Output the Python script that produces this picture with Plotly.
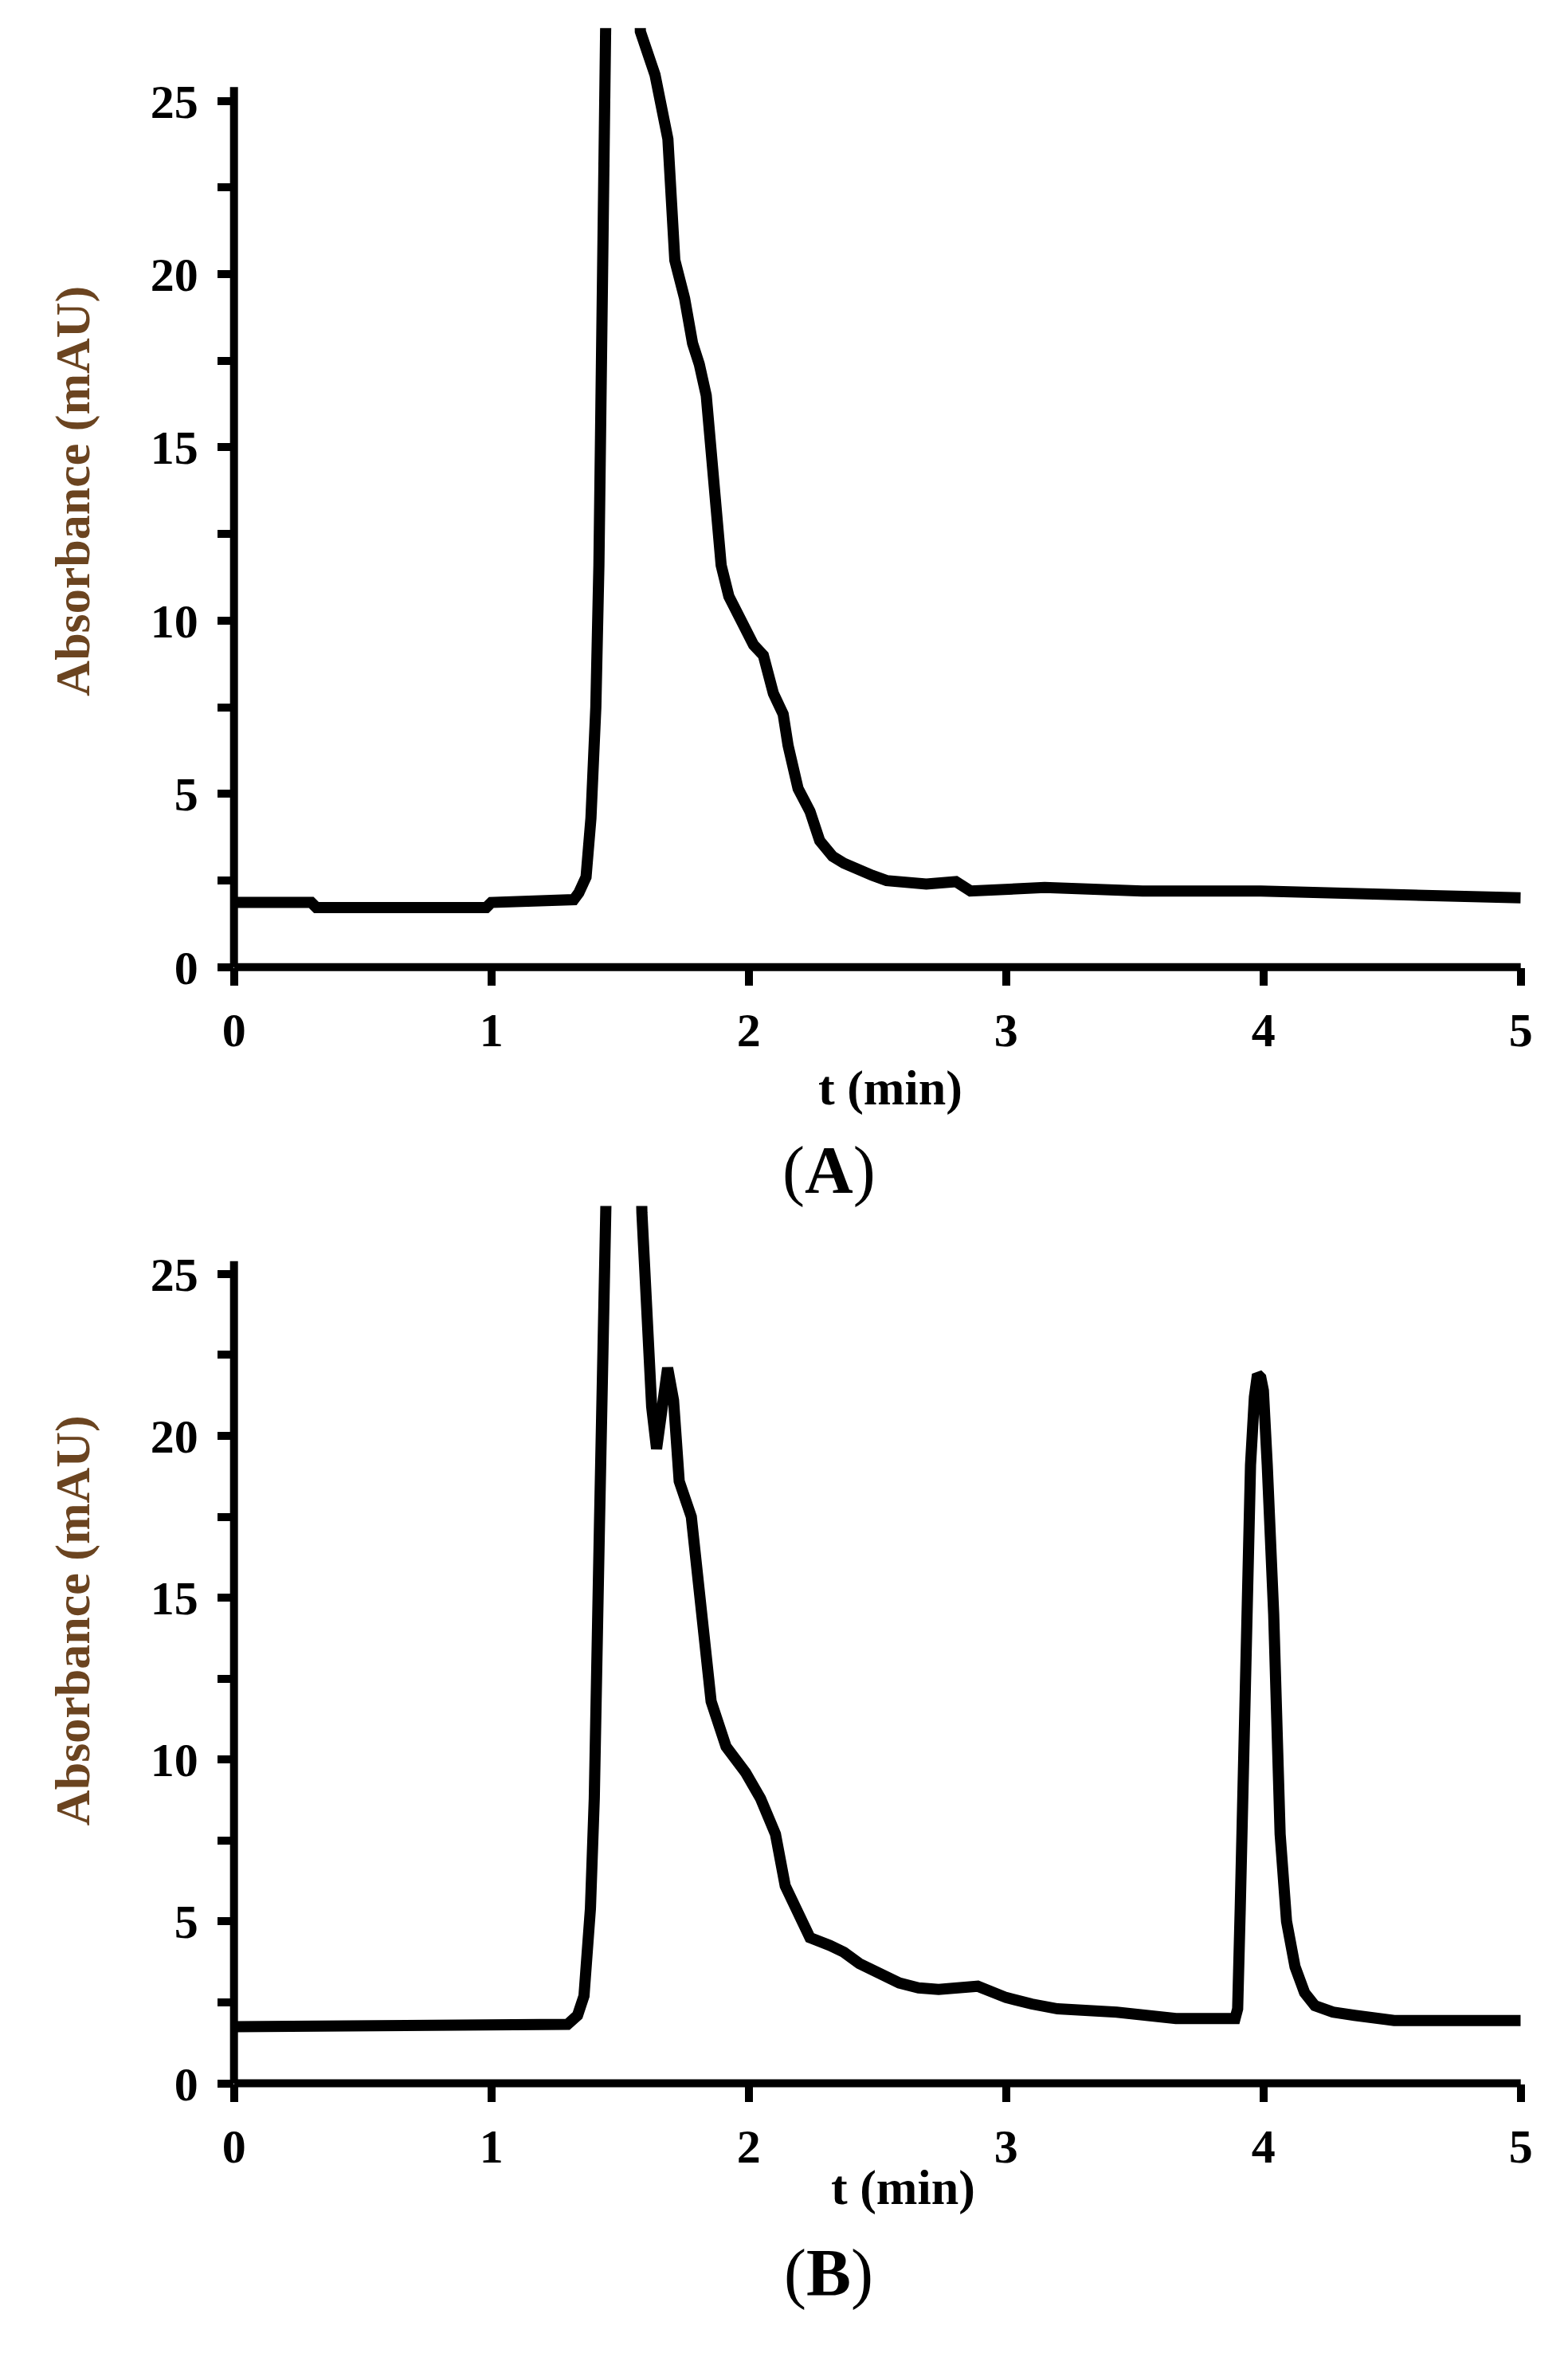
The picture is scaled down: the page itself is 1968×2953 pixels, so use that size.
import plotly.graph_objects as go

# ---------------- data ----------------
tA = [0.00, 0.30, 0.32, 0.98, 1.00, 1.30, 1.32, 1.34, 1.368, 1.387, 1.406, 1.418, 1.425, 1.437, 1.444,
      1.46, 1.52, 1.57, 1.579, 1.636, 1.686, 1.713, 1.751, 1.782, 1.808, 1.835, 1.854, 1.877,
      1.893, 1.923, 1.962, 2.019, 2.057, 2.096, 2.134, 2.153, 2.192, 2.238, 2.276, 2.30, 2.326,
      2.37, 2.421, 2.48, 2.536, 2.690, 2.805, 2.862, 3.15, 3.53, 3.99, 4.57, 5.00]
vA = [1.87, 1.87, 1.72, 1.72, 1.87, 1.87, 1.95, 2.15, 2.6, 4.3, 7.5, 11.6, 17.4, 23.6, 27.0,
      33.0, 40.0, 33.0, 27.0, 25.75, 23.9, 20.4, 19.3, 18.0, 17.4, 16.5, 15.0, 12.9,
      11.6, 10.7, 10.1, 9.3, 9.0, 7.9, 7.3, 6.4, 5.15, 4.5, 3.65, 3.4, 3.2,
      3.0, 2.8, 2.65, 2.5, 2.4, 2.47, 2.2, 2.3, 2.2, 2.2, 2.05, 2.0]

tB = [0.00, 1.00, 1.01, 1.296, 1.335, 1.36, 1.385, 1.40, 1.42, 1.43, 1.44, 1.46, 1.52, 1.57,
      1.585, 1.604, 1.623, 1.642, 1.662, 1.685, 1.708, 1.73, 1.777, 1.815, 1.854, 1.912, 1.988,
      2.046, 2.104, 2.142, 2.18, 2.238, 2.315, 2.37, 2.43, 2.50, 2.585, 2.66, 2.738, 2.89, 3.00,
      3.10, 3.20, 3.43, 3.66, 3.89, 3.90, 3.91, 3.93, 3.95, 3.965, 3.977, 3.99, 4.00, 4.015,
      4.04, 4.065, 4.09, 4.123, 4.16, 4.20, 4.27, 4.354, 4.508, 5.00]
vB = [1.75, 1.75, 1.82, 1.82, 2.1, 2.7, 5.4, 8.8, 17.2, 23.6, 26.9, 33.0, 40.0, 33.0,
      26.9, 23.6, 20.9, 19.6, 20.9, 22.1, 21.1, 18.6, 17.5, 15.0, 11.8, 10.4, 9.6,
      8.8, 7.7, 6.1, 5.4, 4.5, 4.26, 4.05, 3.7, 3.4, 3.1, 2.95, 2.9, 3.0, 2.65,
      2.45, 2.3, 2.2, 2.0, 2.0, 2.3, 5.4, 14.5, 19.1, 21.2, 21.9, 21.8, 21.4, 19.1,
      14.5, 7.7, 5.0, 3.6, 2.8, 2.4, 2.2, 2.1, 1.94, 1.94]

x_ticks = [0, 1, 2, 3, 4, 5]
y_ticks = [0, 5, 10, 15, 20, 25]
y_top = 27.1
y_axis_end = 25.4

# ---------------- layout geometry ----------------
W, H = 1968, 2953
FONT = "Liberation Serif"
X_DOM = [283 / W, 1923 / W]
Y_DOM_A = [(H - 1228) / H, (H - 35.6) / H]
Y_DOM_B = [(H - 2645) / H, (H - 1531.2) / H]

fig = go.Figure()
line_style = dict(color="black", width=14)
fig.add_trace(go.Scatter(x=tA, y=vA, mode="lines", line=line_style, xaxis="x", yaxis="y",
                         showlegend=False, hoverinfo="skip"))
fig.add_trace(go.Scatter(x=tB, y=vB, mode="lines", line=line_style, xaxis="x2", yaxis="y2",
                         showlegend=False, hoverinfo="skip"))

tickfont = dict(family=FONT, size=60, color="black", weight="bold")

def xaxis(dom_anchor):
    return dict(domain=X_DOM, range=[0, 5], anchor=dom_anchor, tickmode="array",
                tickvals=x_ticks, ticktext=[str(v) for v in x_ticks], ticks="outside",
                ticklen=22, tickwidth=10, tickcolor="black", showline=False, showgrid=False,
                zeroline=False, tickfont=tickfont, ticklabelstandoff=4, fixedrange=True)

def yaxis(dom, anchor):
    return dict(domain=dom, range=[0, y_top], anchor=anchor, tickmode="array",
                tickvals=y_ticks, ticktext=[str(v) for v in y_ticks], ticks="outside",
                ticklen=20, tickwidth=10, tickcolor="black", showline=False, showgrid=False,
                zeroline=False, tickfont=tickfont, ticklabelstandoff=12,
                minor=dict(ticks="outside", tick0=0, dtick=2.5, ticklen=20, tickwidth=10,
                           tickcolor="black", showgrid=False),
                fixedrange=True)

shapes = []
for xr, yr in (("x", "y"), ("x2", "y2")):
    shapes.append(dict(type="line", xref=xr + " domain", yref=yr + " domain",
                       x0=0, x1=0, y0=0, y1=y_axis_end / y_top,
                       line=dict(color="black", width=10)))
    shapes.append(dict(type="line", xref=xr + " domain", yref=yr + " domain",
                       x0=0, x1=1, y0=0, y1=0, line=dict(color="black", width=10)))

title_font = dict(family=FONT, size=62, color="black", weight="bold")
ytitle_font = dict(family=FONT, size=62, color="#6b4420", weight="bold")
panel_font = dict(family=FONT, size=84, color="black")

annotations = [
    dict(text="Absorbance (mAU)", x=78 / W, y=(H - 623) / H, textangle=-90, font=ytitle_font),
    dict(text="Absorbance (mAU)", x=78 / W, y=(H - 2057) / H, textangle=-90, font=ytitle_font),
    dict(text="t (min)", x=1120 / W, y=(H - 1381) / H, font=title_font),
    dict(text="t (min)", x=1136 / W, y=(H - 2777) / H, font=title_font),
    dict(text="(<b>A</b>)", x=1041 / W, y=(H - 1486) / H, font=panel_font),
    dict(text="(<b>B</b>)", x=1041 / W, y=(H - 2886) / H, font=panel_font),
]
for a in annotations:
    a.update(xref="paper", yref="paper", showarrow=False, xanchor="center", yanchor="middle")

fig.update_layout(
    width=W, height=H, margin=dict(l=0, r=0, t=0, b=0),
    paper_bgcolor="white", plot_bgcolor="white",
    xaxis=xaxis("y"), yaxis=yaxis(Y_DOM_A, "x"),
    xaxis2=xaxis("y2"), yaxis2=yaxis(Y_DOM_B, "x2"),
    shapes=shapes, annotations=annotations, showlegend=False,
)

fig.write_html("out.html", config={"displayModeBar": False},
               post_script="document.body.style.margin='0px';")
